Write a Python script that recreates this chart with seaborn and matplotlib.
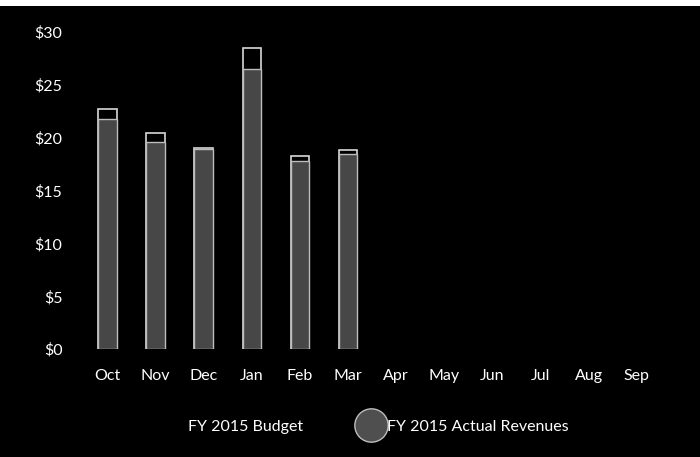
import numpy as np
import pandas as pd
import seaborn as sns
import matplotlib
matplotlib.use('Agg')
import matplotlib.pyplot as plt
from matplotlib.lines import Line2D
from matplotlib.patches import Patch, Rectangle

# chart values (millions $)
months = ['Oct', 'Nov', 'Dec', 'Jan', 'Feb', 'Mar', 'Apr', 'May', 'Jun', 'Jul', 'Aug', 'Sep']
budget = [22.7, 20.4, 19.0, 28.5, 18.3, 18.8, np.nan, np.nan, np.nan, np.nan, np.nan, np.nan]
actual = [21.8, 19.6, 18.9, 26.5, 17.8, 18.5, np.nan, np.nan, np.nan, np.nan, np.nan, np.nan]
y_ticks = [0, 5, 10, 15, 20, 25, 30]

df = pd.DataFrame({'month': months, 'budget': budget, 'actual': actual})

sns.set_style('dark')
plt.rcParams['font.family'] = ['Lato', 'DejaVu Sans']

fig = plt.figure(figsize=(7, 4.57), dpi=100, facecolor='black')
ax = fig.add_axes([0.119, 0.236, 0.825, 0.694])
ax.set_facecolor('black')

# budget behind, actual in front
sns.barplot(data=df, x='month', y='budget', order=months, color='black',
            edgecolor='#d8d8d8', linewidth=1.2, width=0.38, ax=ax)
sns.barplot(data=df, x='month', y='actual', order=months, color='#474747',
            edgecolor='#bdbdbd', linewidth=1.0, width=0.38, ax=ax)

ax.set_ylim(0, 30)
ax.set_yticks(y_ticks)
ax.set_yticklabels([f'${v}' for v in y_ticks])
ax.set_xlabel('')
ax.set_ylabel('')
ax.grid(False)
for s in ax.spines.values():
    s.set_visible(False)
ax.tick_params(axis='y', length=0, pad=15, labelcolor='white', labelsize=11.5)
ax.tick_params(axis='x', length=0, pad=14, labelcolor='white', labelsize=11.5)

handles = [Patch(facecolor='black', edgecolor='black'),
           Line2D([], [], marker='o', linestyle='', markersize=24,
                  markerfacecolor='#4f4f4f', markeredgecolor='#bdbdbd')]
fig.legend(handles, ['FY 2015 Budget', 'FY 2015 Actual Revenues'],
           loc='center', bbox_to_anchor=(0.52, 0.066), ncol=2, frameon=False,
           labelcolor='white', fontsize=11.5, columnspacing=3.4, handletextpad=0.2,
           handlelength=1.6)

# white strip along the top edge of the scan
fig.patches.append(Rectangle((0, 0.987), 1, 0.013, transform=fig.transFigure,
                             facecolor='white', edgecolor='none'))

fig.savefig('out.png', dpi=100, facecolor='black')
